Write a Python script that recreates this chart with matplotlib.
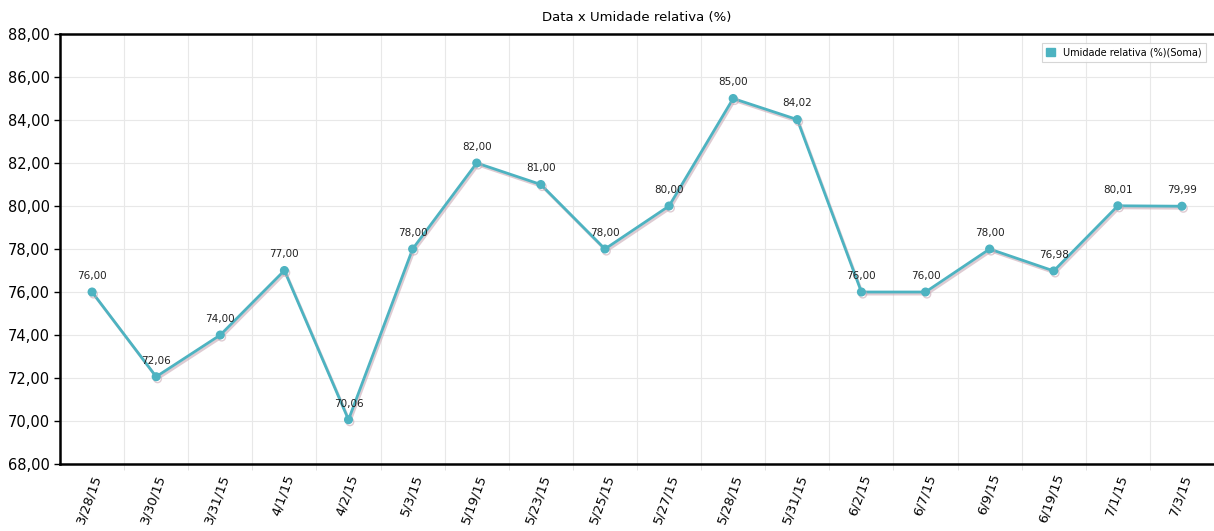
import matplotlib.pyplot as plt
import matplotlib.patheffects as pe
import numpy as np

# Chart data
dates = ['3/28/15', '3/30/15', '3/31/15', '4/1/15', '4/2/15', '5/3/15', '5/19/15',
         '5/23/15', '5/25/15', '5/27/15', '5/28/15', '5/31/15', '6/2/15', '6/7/15',
         '6/9/15', '6/19/15', '7/1/15', '7/3/15']
umidade = [76.00, 72.06, 74.00, 77.00, 70.06, 78.00, 82.00, 81.00, 78.00, 80.00,
           85.00, 84.02, 76.00, 76.00, 78.00, 76.98, 80.01, 79.99]
y_ticks = [68, 70, 72, 74, 76, 78, 80, 82, 84, 86, 88]


def fmt(v):
    return f'{v:.2f}'.replace('.', ',')


line_color = '#4db3c1'

fig = plt.figure(figsize=(12.14, 5.31), dpi=100)
ax = fig.add_axes([60 / 1214, 67 / 531, 1154 / 1214, 430 / 531])

x = np.arange(len(dates))
ax.plot(x, umidade, color=line_color, linewidth=2.0, marker='o', markersize=5.5,
        label='Umidade relativa (%)(Soma)', zorder=3,
        path_effects=[pe.SimpleLineShadow(offset=(1, -1.5), shadow_color='#c9a9b4', alpha=0.6),
                      pe.Normal()])

for xi, v in zip(x, umidade):
    ax.annotate(fmt(v), (xi, v), xytext=(0, 8), textcoords='offset points',
                ha='center', va='bottom', fontsize=7.5, color='#222222')

ax.set_xlim(-0.5, len(dates) - 0.5)
ax.set_ylim(68, 88)
ax.set_yticks(y_ticks)
ax.set_yticklabels([fmt(t) for t in y_ticks], fontsize=10.5)
ax.set_xticks(x)
ax.set_xticklabels(dates, rotation=70, ha='right', va='top', rotation_mode='anchor',
                   fontsize=9.5)
ax.tick_params(axis='x', length=0, pad=6)
ax.tick_params(axis='y', length=4, width=1)

# gridlines at band boundaries
ax.set_xticks(np.arange(0.5, len(dates) - 0.5), minor=True)
ax.tick_params(axis='x', which='minor', length=4, color='#dddddd')
ax.grid(True, which='minor', axis='x', color='#e8e8e8', linewidth=0.8)
ax.grid(True, which='major', axis='y', color='#e8e8e8', linewidth=0.8)
ax.set_axisbelow(True)

for side in ['left', 'bottom', 'top']:
    ax.spines[side].set_linewidth(1.8)
ax.spines['right'].set_visible(False)

ax.set_title('Data x Umidade relativa (%)', fontsize=9.5, fontweight='medium', pad=9)

leg = ax.legend(loc='upper right', fontsize=7, handlelength=0.9, handleheight=0.9,
                frameon=True, fancybox=False, edgecolor='#cccccc',
                borderpad=0.45, bbox_to_anchor=(0.997, 0.99),
                handles=[plt.Rectangle((0, 0), 1, 1, color=line_color)],
                labels=['Umidade relativa (%)(Soma)'])
leg.get_frame().set_linewidth(0.8)

fig.savefig('out.png', dpi=100)
